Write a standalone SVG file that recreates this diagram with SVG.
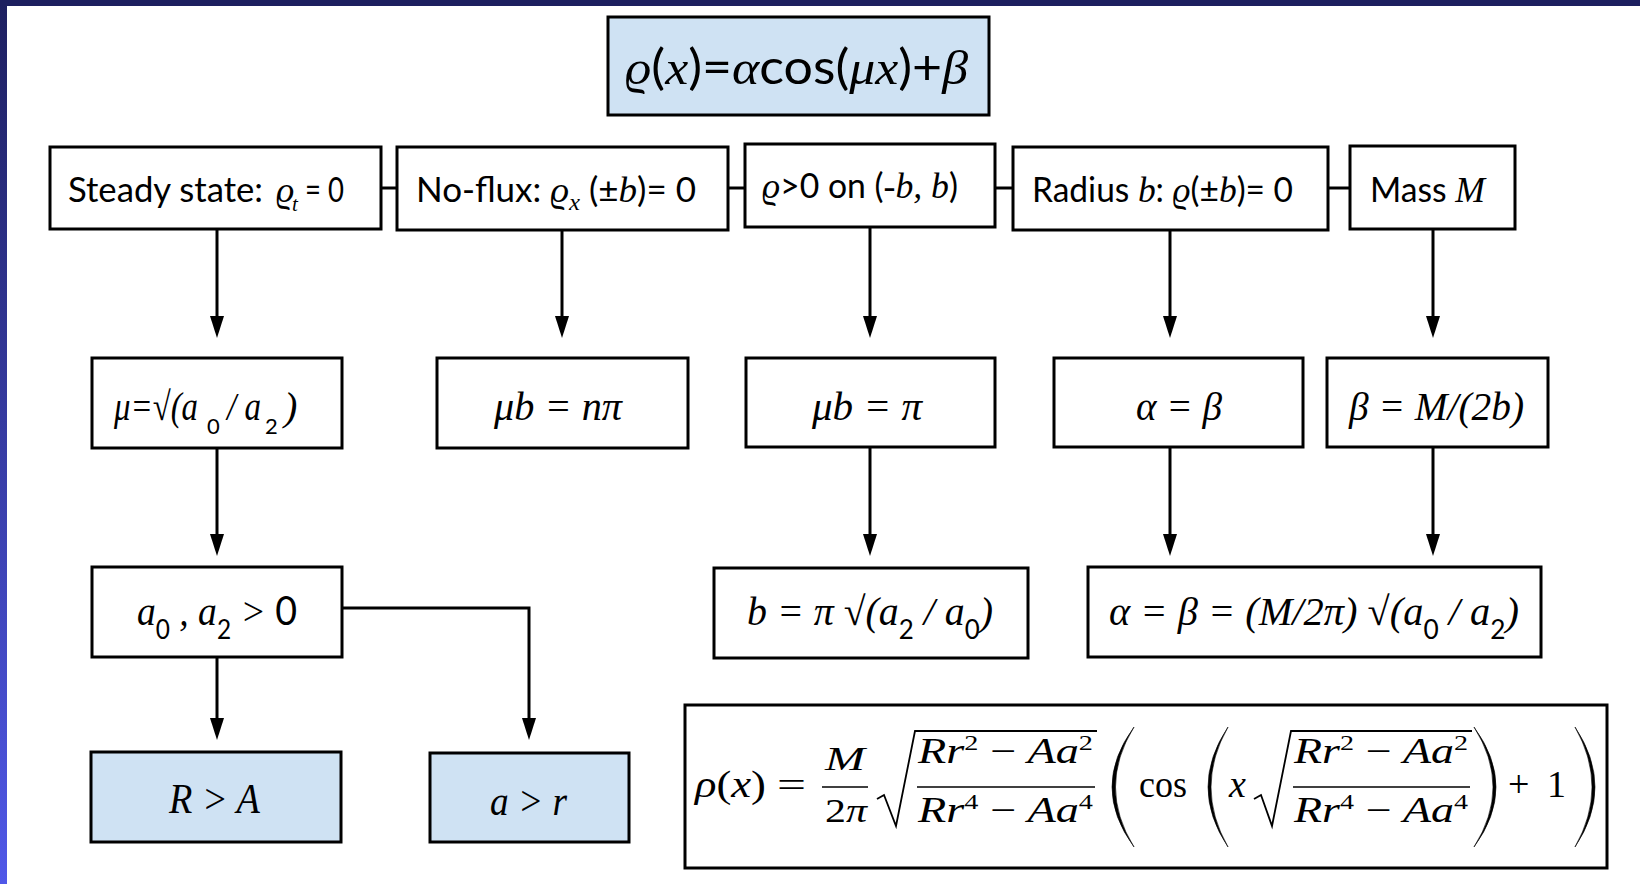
<svg xmlns="http://www.w3.org/2000/svg" width="1640" height="884" viewBox="0 0 1640 884">
<defs>
<style>
.box{fill:#fff;stroke:#000;stroke-width:3}
.blue{fill:#cfe2f3}
.ln{fill:none;stroke:#000;stroke-width:3}
.bar{stroke:#000;stroke-width:1.6}
.rad{fill:none;stroke:#000;stroke-width:1.8;stroke-linejoin:miter}
.par{fill:#000;stroke:#000;stroke-width:0.6}
.sans{font-family:Lato,"Open Sans",sans-serif;fill:#000}
.mi{font-family:"Liberation Serif","DejaVu Serif",serif;font-style:italic}
.ss{font-family:Lato,"Open Sans",sans-serif;font-style:normal}
.m2{font-family:"Liberation Serif","DejaVu Serif",serif;font-style:italic;fill:#000}
.tex{font-family:"Liberation Serif","DejaVu Serif",serif;fill:#000}
</style>
<linearGradient id="lg" x1="0" y1="0" x2="0" y2="1">
<stop offset="0" stop-color="#1d1f5f"/>
<stop offset="1" stop-color="#5058e8"/>
</linearGradient>
<marker id="ah" markerUnits="userSpaceOnUse" markerWidth="22" markerHeight="14" viewBox="0 0 22 14" refX="0" refY="7" orient="auto">
<path d="M0,0 L22,7 L0,14 Z" fill="#000"/>
</marker>
</defs>

<rect x="0" y="0" width="1640" height="884" fill="#fff"/>
<rect x="0" y="0" width="7" height="884" fill="url(#lg)"/>
<rect x="0" y="0" width="1640" height="6" fill="#1d1f5f"/>

<g id="connectors">
<line class="ln" x1="381" y1="188" x2="397" y2="188"/>
<line class="ln" x1="728" y1="188" x2="745" y2="188"/>
<line class="ln" x1="995" y1="188" x2="1013" y2="188"/>
<line class="ln" x1="1328" y1="188" x2="1350" y2="188"/>
<line class="ln" x1="217" y1="229" x2="217" y2="316" marker-end="url(#ah)"/>
<line class="ln" x1="562" y1="230" x2="562" y2="316" marker-end="url(#ah)"/>
<line class="ln" x1="870" y1="227" x2="870" y2="316" marker-end="url(#ah)"/>
<line class="ln" x1="1170" y1="230" x2="1170" y2="316" marker-end="url(#ah)"/>
<line class="ln" x1="1433" y1="229" x2="1433" y2="316" marker-end="url(#ah)"/>
<line class="ln" x1="217" y1="448" x2="217" y2="534" marker-end="url(#ah)"/>
<line class="ln" x1="870" y1="448" x2="870" y2="534" marker-end="url(#ah)"/>
<line class="ln" x1="1170" y1="448" x2="1170" y2="534" marker-end="url(#ah)"/>
<line class="ln" x1="1433" y1="448" x2="1433" y2="534" marker-end="url(#ah)"/>
<line class="ln" x1="217" y1="657" x2="217" y2="718" marker-end="url(#ah)"/>
<path class="ln" d="M342,608 H529 V718" marker-end="url(#ah)"/>
</g>

<g id="n-top">
<rect class="box blue" x="608" y="17" width="381" height="98"/>
<text class="sans" x="625" y="84" font-size="48" textLength="343" lengthAdjust="spacingAndGlyphs"><tspan class="mi">ϱ</tspan>(<tspan class="mi">x</tspan>)=<tspan class="mi">α</tspan>cos(<tspan class="mi">μx</tspan>)+<tspan class="mi">β</tspan></text>
</g>

<g id="n-steady">
<rect class="box" x="50" y="147" width="331" height="82"/>
<text class="sans" x="68" y="202" font-size="34" textLength="195" lengthAdjust="spacingAndGlyphs">Steady state:</text>
<text class="mi" x="276" y="202" font-size="36">ϱ</text>
<text class="mi" x="292" y="211" font-size="21">t</text>
<text class="sans" x="305" y="202" font-size="34" textLength="39" lengthAdjust="spacingAndGlyphs">= 0</text>
</g>

<g id="n-noflux">
<rect class="box" x="397" y="147" width="331" height="83"/>
<text class="sans" x="416" y="202" font-size="34" textLength="280" lengthAdjust="spacingAndGlyphs">No-flux: <tspan class="mi" font-size="36">ϱ</tspan><tspan class="mi" font-size="24" dy="8">x</tspan><tspan dy="-8"> (±</tspan><tspan class="mi" font-size="36">b</tspan>)= 0</text>
</g>

<g id="n-pos">
<rect class="box" x="745" y="144" width="250" height="83"/>
<text class="sans" x="762" y="198" font-size="34" textLength="196" lengthAdjust="spacingAndGlyphs"><tspan class="mi" font-size="36">ϱ</tspan>&gt;0 on (<tspan class="mi" font-size="36">-b, b</tspan>)</text>
</g>

<g id="n-radius">
<rect class="box" x="1013" y="147" width="315" height="83"/>
<text class="sans" x="1032" y="202" font-size="34" textLength="261" lengthAdjust="spacingAndGlyphs">Radius <tspan class="mi" font-size="36">b</tspan>: <tspan class="mi" font-size="36">ϱ</tspan>(±<tspan class="mi" font-size="36">b</tspan>)= 0</text>
</g>

<g id="n-mass">
<rect class="box" x="1350" y="146" width="165" height="83"/>
<text class="sans" x="1370" y="202" font-size="34" textLength="115" lengthAdjust="spacingAndGlyphs">Mass <tspan class="mi" font-size="36">M</tspan></text>
</g>

<g id="n-mu">
<rect class="box" x="92" y="358" width="250" height="90"/>
<text class="m2" x="114" y="420" font-size="40" textLength="84" lengthAdjust="spacingAndGlyphs">μ=√(a</text>
<text class="sans" x="207" y="434" font-size="22">0</text>
<text class="m2" x="227" y="420" font-size="40" textLength="34" lengthAdjust="spacingAndGlyphs">/ a</text>
<text class="sans" x="265" y="434" font-size="22">2</text>
<text class="m2" x="284" y="420" font-size="40">)</text>
</g>

<g id="n-mubn">
<rect class="box" x="437" y="358" width="251" height="90"/>
<text class="m2" x="494" y="420" font-size="40" textLength="128" lengthAdjust="spacingAndGlyphs">μb = nπ</text>
</g>

<g id="n-mubpi">
<rect class="box" x="746" y="358" width="249" height="89"/>
<text class="m2" x="812" y="420" font-size="40" textLength="110" lengthAdjust="spacingAndGlyphs">μb = π</text>
</g>

<g id="n-alphabeta">
<rect class="box" x="1054" y="358" width="249" height="89"/>
<text class="m2" x="1136" y="420" font-size="40" textLength="86" lengthAdjust="spacingAndGlyphs">α = β</text>
</g>

<g id="n-beta">
<rect class="box" x="1327" y="358" width="221" height="89"/>
<text class="m2" x="1349" y="420" font-size="40" textLength="175" lengthAdjust="spacingAndGlyphs">β = M/(2b)</text>
</g>

<g id="n-a0a2">
<rect class="box" x="92" y="567" width="250" height="90"/>
<text class="m2" x="137" y="625" font-size="40" textLength="160" lengthAdjust="spacingAndGlyphs">a<tspan class="ss" font-size="26" dy="14">0</tspan><tspan dy="-14"> , a</tspan><tspan class="ss" font-size="26" dy="14">2</tspan><tspan dy="-14"> &gt; </tspan><tspan class="ss">0</tspan></text>
</g>

<g id="n-b">
<rect class="box" x="714" y="568" width="314" height="90"/>
<text class="m2" x="747" y="625" font-size="40" textLength="246" lengthAdjust="spacingAndGlyphs">b = π √(a<tspan class="ss" font-size="26" dy="14">2</tspan><tspan dy="-14"> / a</tspan><tspan class="ss" font-size="26" dy="14">0</tspan><tspan dy="-14">)</tspan></text>
</g>

<g id="n-ab">
<rect class="box" x="1088" y="567" width="453" height="90"/>
<text class="m2" x="1109" y="625" font-size="40" textLength="410" lengthAdjust="spacingAndGlyphs">α = β = (M/2π) √(a<tspan class="ss" font-size="26" dy="14">0</tspan><tspan dy="-14"> / a</tspan><tspan class="ss" font-size="26" dy="14">2</tspan><tspan dy="-14">)</tspan></text>
</g>

<g id="n-RA">
<rect class="box blue" x="91" y="752" width="250" height="90"/>
<text class="m2" x="169" y="813" font-size="42" textLength="91" lengthAdjust="spacingAndGlyphs">R &gt; A</text>
</g>

<g id="n-ar">
<rect class="box blue" x="430" y="753" width="199" height="89"/>
<text class="m2" x="490" y="815" font-size="42" textLength="77" lengthAdjust="spacingAndGlyphs">a &gt; r</text>
</g>

<g id="n-formula">
<rect class="box" x="685" y="705" width="922" height="163"/>
<text class="tex" x="695" y="797" font-size="38" textLength="71" lengthAdjust="spacingAndGlyphs"><tspan class="mi">ρ</tspan>(<tspan class="mi">x</tspan>)</text>
<text class="tex" x="777" y="797" font-size="36" textLength="29" lengthAdjust="spacingAndGlyphs">=</text>
<text class="tex mi" x="825" y="770" font-size="34" textLength="40" lengthAdjust="spacingAndGlyphs">M</text>
<line class="bar" x1="822" y1="787" x2="868" y2="787"/>
<text class="tex" x="825" y="822" font-size="34" textLength="42" lengthAdjust="spacingAndGlyphs">2<tspan class="mi">π</tspan></text>
<path class="rad" d="M877,799 L884,795 L896,826 L915,731 H1097"/>
<text class="tex" x="918" y="763" font-size="36" textLength="175" lengthAdjust="spacingAndGlyphs"><tspan class="mi">Rr</tspan><tspan font-size="22" dy="-13">2</tspan><tspan dy="13"> − </tspan><tspan class="mi">Aa</tspan><tspan font-size="22" dy="-13">2</tspan></text>
<line class="bar" x1="917" y1="787" x2="1095" y2="787"/>
<text class="tex" x="918" y="822" font-size="36" textLength="175" lengthAdjust="spacingAndGlyphs"><tspan class="mi">Rr</tspan><tspan font-size="22" dy="-13">4</tspan><tspan dy="13"> − </tspan><tspan class="mi">Aa</tspan><tspan font-size="22" dy="-13">4</tspan></text>
<path class="par" d="M1134,727 Q1090,787 1134,847 Q1097,787 1134,727 Z"/>
<text class="tex" x="1139" y="797" font-size="38" textLength="48" lengthAdjust="spacingAndGlyphs">cos</text>
<path class="par" d="M1228,727 Q1188,787 1228,847 Q1194,787 1228,727 Z"/>
<text class="tex mi" x="1229" y="797" font-size="38">x</text>
<path class="rad" d="M1254,799 L1261,795 L1272,826 L1291,731 H1472"/>
<text class="tex" x="1294" y="763" font-size="36" textLength="174" lengthAdjust="spacingAndGlyphs"><tspan class="mi">Rr</tspan><tspan font-size="22" dy="-13">2</tspan><tspan dy="13"> − </tspan><tspan class="mi">Aa</tspan><tspan font-size="22" dy="-13">2</tspan></text>
<line class="bar" x1="1293" y1="787" x2="1470" y2="787"/>
<text class="tex" x="1294" y="822" font-size="36" textLength="174" lengthAdjust="spacingAndGlyphs"><tspan class="mi">Rr</tspan><tspan font-size="22" dy="-13">4</tspan><tspan dy="13"> − </tspan><tspan class="mi">Aa</tspan><tspan font-size="22" dy="-13">4</tspan></text>
<path class="par" d="M1474,727 Q1518,787 1474,847 Q1512,787 1474,727 Z"/>
<text class="tex" x="1508" y="797" font-size="38">+</text>
<text class="tex" x="1547" y="797" font-size="38">1</text>
<path class="par" d="M1575,727 Q1615,787 1575,847 Q1609,787 1575,727 Z"/>
</g>
</svg>
